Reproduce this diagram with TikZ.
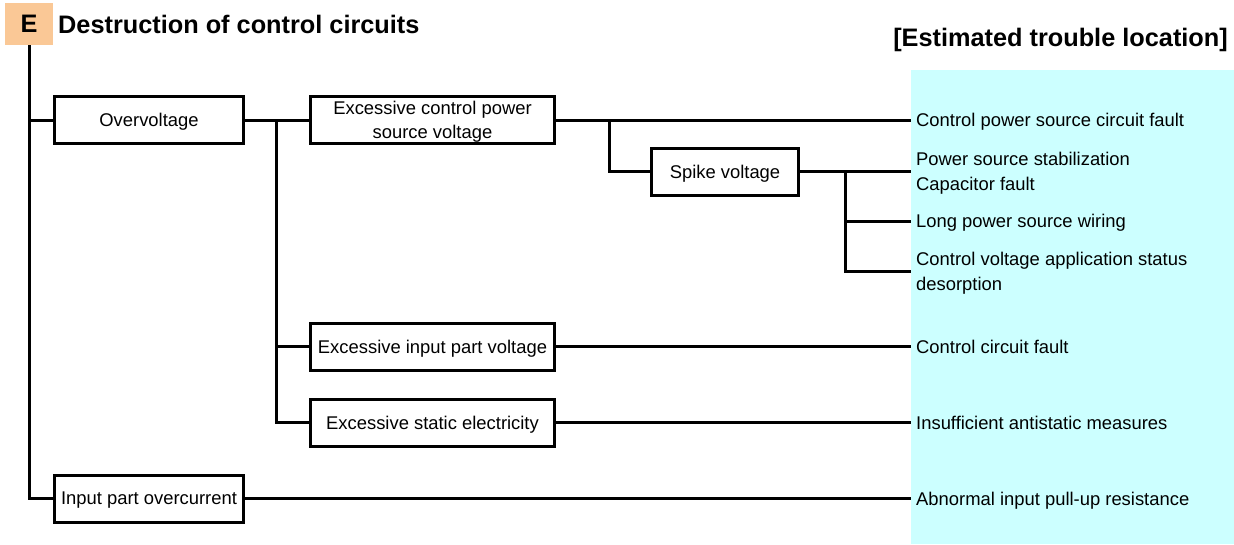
\documentclass[tikz,border=0pt]{standalone}
\usepackage{fontspec}
\setmainfont{Liberation Sans}
\definecolor{headorange}{RGB}{250,200,150}
\definecolor{locationcyan}{RGB}{204,255,255}
\begin{document}
\begin{tikzpicture}[x=1pt,y=-1pt,
		wire/.style={line width=3pt},
		box/.style={draw,line width=3pt,minimum height=47,inner sep=0pt,text depth=0pt,align=center,font=\fontsize{18.4}{24}\selectfont},
		cause/.style={anchor=west,inner xsep=5pt,inner ysep=0pt,text depth=0pt,align=left,font=\fontsize{18.4}{25}\selectfont}]
		\useasboundingbox (0,0) rectangle (1234,544);
		% Header
		\fill[locationcyan] (911,70) rectangle (1234,544);
		\node[fill=headorange,minimum width=48,minimum height=42,inner sep=0pt,text depth=0pt,font=\fontsize{25.3}{30}\selectfont\bfseries] (E) at (29,24) {E};
		\node[anchor=west,inner sep=0pt,text depth=0pt,font=\fontsize{25.3}{30}\selectfont\bfseries] (title) at (58,24) {Destruction of control circuits};
		\node[anchor=east,inner sep=0pt,text depth=0pt,font=\fontsize{25.3}{30}\selectfont\bfseries] (loc) at (1228,37) {[Estimated trouble location]};
		% Boxes
		\node[box,minimum width=189] (ov) at (149,120) {Overvoltage};
		\node[box,minimum width=244] (ecv) at (432.5,120) {Excessive control power\\source voltage};
		\node[box,minimum width=147] (spk) at (725,171.5) {Spike voltage};
		\node[box,minimum width=244] (eip) at (432.5,346.5) {Excessive input part voltage};
		\node[box,minimum width=244] (ese) at (432.5,422.5) {Excessive static electricity};
		\node[box,minimum width=189] (oc) at (149,498.5) {Input part overcurrent};
		% Estimated trouble locations
		\node[cause] (c1) at (911,120) {Control power source circuit fault};
		\node[cause] (c2) at (911,171.5) {Power source stabilization\\Capacitor fault};
		\node[cause] (c3) at (911,221) {Long power source wiring};
		\node[cause] (c4) at (911,271.5) {Control voltage application status\\desorption};
		\node[cause] (c5) at (911,346.5) {Control circuit fault};
		\node[cause] (c6) at (911,422.5) {Insufficient antistatic measures};
		\node[cause] (c7) at (911,498.5) {Abnormal input pull-up resistance};
		% Branch points
		\coordinate (br1) at (276,120);
		\coordinate (br2) at (609,120);
		\coordinate (br3) at (845,171.5);
		% Connectors
		\draw[wire] (E.south) |- (ov.west);
		\draw[wire] (E.south) |- (oc.west);
		\draw[wire] (ov.east) -- (ecv.west);
		\draw[wire] (br1) |- (eip.west);
		\draw[wire] (br1) |- (ese.west);
		\draw[wire] (ecv.east) -- (c1.west);
		\draw[wire] (br2) |- (spk.west);
		\draw[wire] (spk.east) -- (c2.west);
		\draw[wire] (br3) |- (c3.west);
		\draw[wire] (br3) |- (c4.west);
		\draw[wire] (eip.east) -- (c5.west);
		\draw[wire] (ese.east) -- (c6.west);
		\draw[wire] (oc.east) -- (c7.west);
	\end{tikzpicture}
\end{document}
